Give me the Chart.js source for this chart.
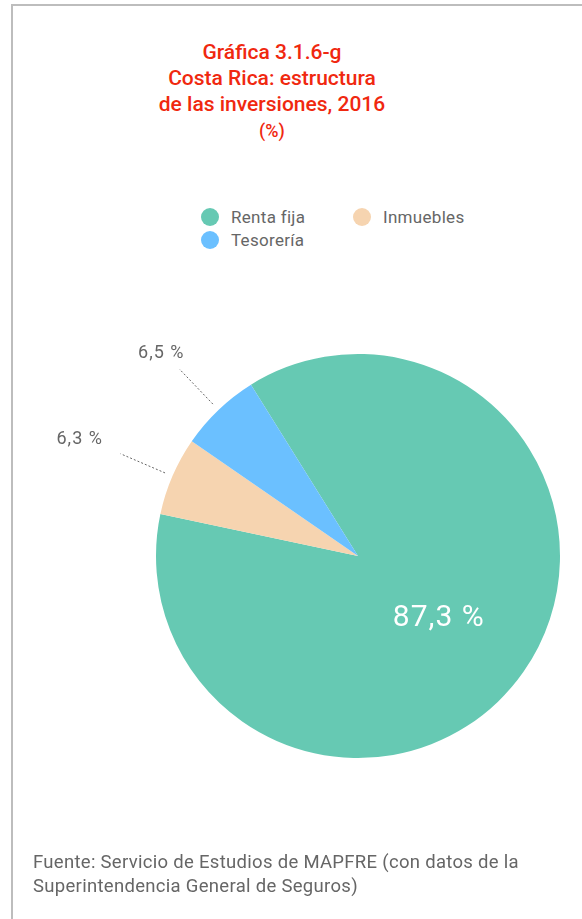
<!DOCTYPE html>
<html>
<head>
<meta charset="utf-8">
<script src="https://cdn.jsdelivr.net/npm/chart.js@4"></script>
<style>
  body { margin: 0; width: 582px; height: 919px; overflow: hidden; background: #fff; font-family: Roboto, "Noto Sans", sans-serif; position: relative; }
  .frame { position: absolute; left: 11px; top: 4px; width: 600px; height: 960px; border-left: 2px solid #bdbdbd; border-top: 2px solid #bdbdbd; }
  .titulo { position: absolute; left: 0; width: 544px; top: 39px; text-align: center; color: #f0280f; font-size: 21px; font-weight: 500; line-height: 26px; }
  .titulo .pct { font-size: 18px; line-height: 24px; }
  .leyenda { position: absolute; font-size: 17px; letter-spacing: 0.3px; color: #666; }
  .item { position: absolute; white-space: nowrap; line-height: 20px; }
  .item span.dot { position: absolute; width: 18px; height: 18px; border-radius: 50%; left: -30px; top: 1px; }
  .fuente { position: absolute; left: 33px; top: 850px; font-size: 18.5px; letter-spacing: 0.3px; line-height: 24px; color: #666; }
  canvas { position: absolute; left: 0; top: 0; }
</style>
</head>
<body>
<div class="frame"></div>
<div class="titulo">Gráfica 3.1.6-g<br>Costa Rica: estructura<br>de las inversiones, 2016<br><span class="pct">(%)</span></div>
<div class="leyenda" id="leyenda"></div>
<canvas id="myChart" width="582" height="919"></canvas>
<div class="fuente">Fuente: Servicio de Estudios de MAPFRE (con datos de la<br>Superintendencia General de Seguros)</div>

<script>
const CATEGORIAS = ['Renta fija', 'Inmuebles', 'Tesorería'];
const VALORES = [87.3, 6.3, 6.5];
const ETIQUETAS = ['87,3 %', '6,3 %', '6,5 %'];
const COLORES = ['#66c9b3', '#f6d4b0', '#6bc0ff'];

// leyenda en html (dos columnas como el original)
const posLeyenda = [[231, 207], [383, 207], [231, 230]];
const leyenda = document.getElementById('leyenda');
CATEGORIAS.forEach(function (cat, i) {
    const d = document.createElement('div');
    d.className = 'item';
    d.style.left = posLeyenda[i][0] + 'px';
    d.style.top = posLeyenda[i][1] + 'px';
    d.innerHTML = '<span class="dot" style="background:' + COLORES[i] + '"></span>' + cat;
    leyenda.appendChild(d);
});

// etiquetas de porcentaje con lineas guia
const etiquetasPlugin = {
    id: 'etiquetas',
    afterDatasetsDraw(chart) {
        const ctx = chart.ctx;
        const meta = chart.getDatasetMeta(0);
        meta.data.forEach(function (arc, i) {
            const p = arc.getProps(['x', 'y', 'startAngle', 'endAngle', 'outerRadius'], true);
            const mid = (p.startAngle + p.endAngle) / 2;
            const r = p.outerRadius;
            const cx = Math.cos(mid), cy = Math.sin(mid);
            ctx.save();
            ctx.textAlign = 'center';
            ctx.textBaseline = 'middle';
            if (VALORES[i] > 50) {
                ctx.fillStyle = '#fff';
                ctx.font = '30px Roboto';
                ctx.letterSpacing = '1px';
                ctx.fillText(ETIQUETAS[i], p.x + cx * r * 0.5 - 2, p.y + cy * r * 0.5 + 5);
            } else {
                ctx.strokeStyle = '#666';
                ctx.lineWidth = 1;
                ctx.setLineDash([2, 2]);
                ctx.beginPath();
                ctx.moveTo(p.x + cx * r * 1.04, p.y + cy * r * 1.04);
                ctx.lineTo(p.x + cx * r * 1.28, p.y + cy * r * 1.28);
                ctx.stroke();
                ctx.setLineDash([]);
                ctx.fillStyle = '#666';
                ctx.font = '18px Roboto';
                ctx.letterSpacing = '1px';
                const k = i == 1 ? 1.5 : 1.41;
                ctx.fillText(ETIQUETAS[i], p.x + cx * r * k, p.y + cy * r * k + 3);
            }
            ctx.restore();
        });
    }
};

const myChart = new Chart(document.getElementById('myChart'), {
    type: 'pie',
    data: {
        labels: CATEGORIAS,
        datasets: [{
            data: VALORES,
            backgroundColor: COLORES,
            borderWidth: 0
        }]
    },
    options: {
        responsive: false,
        devicePixelRatio: 1,
        animation: false,
        rotation: -32,
        layout: {
            padding: { left: 156, right: 22, top: 354, bottom: 161 }
        },
        plugins: {
            legend: { display: false },
            tooltip: { enabled: false },
            title: { display: false }
        }
    },
    plugins: [etiquetasPlugin]
});
</script>
</body>
</html>
